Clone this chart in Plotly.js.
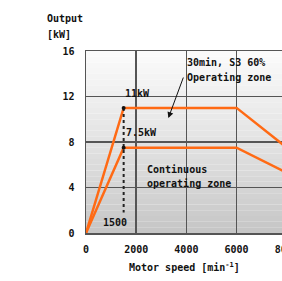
<!DOCTYPE html>
<html>
<head>
<meta charset="utf-8">
<script src="https://cdn.plot.ly/plotly-3.0.1.min.js"></script>
<style>
html,body{margin:0;padding:0;overflow:hidden;background:#fff;width:282px;height:281px;}
#chart{width:345px;height:281px;}
</style>
</head>
<body>
<div id="chart"></div>
<script>
// Data
const speedS3 = [0, 1500, 6000, 8000];
const powerS3 = [0, 11, 11, 7.5];
const speedCont = [0, 1500, 6000, 8000];
const powerCont = [0, 7.5, 7.5, 5.3];
const baseSpeed = [1500, 1500];
const baseLine = [11, 1.8];
const xTicks = [0, 2000, 4000, 6000, 8000];
const yTicks = [0, 4, 8, 12, 16];

const FONT = {family: 'DejaVu Sans Mono', size: 10, color: '#111', weight: 'bold'};
const ORANGE = '#ff6a14';

const traces = [
  {x: speedS3, y: powerS3, mode: 'lines', line: {color: ORANGE, width: 2.5}, hoverinfo: 'skip'},
  {x: speedCont, y: powerCont, mode: 'lines', line: {color: ORANGE, width: 2.5}, hoverinfo: 'skip'},
  {x: baseSpeed, y: baseLine, mode: 'lines', line: {color: '#222', width: 2, dash: 'dot'}, hoverinfo: 'skip'},
  {x: [speedS3[1], speedCont[1]], y: [powerS3[1], powerCont[1]], mode: 'markers', marker: {color: '#111', size: 4}, hoverinfo: 'skip'}
];

// background gradient (style only)
const shapes = [];
const N = 32;
for (let i = 0; i < N; i++) {
  const t = i / N; // 0 bottom -> 1 top
  const v = Math.round(198 + (252 - 198) * Math.pow(t, 0.9));
  shapes.push({type: 'rect', xref: 'paper', yref: 'y', x0: 0, x1: 1, y0: 16 * i / N, y1: 16 * (i + 1) / N,
    fillcolor: `rgb(${v},${v},${v})`, line: {width: 0}, layer: 'below'});
}

const annotations = [
  {x: 2050, y: 12.3, xref: 'x', yref: 'y', text: '11kW', showarrow: false, font: FONT},
  {x: 2200, y: 8.8, xref: 'x', yref: 'y', text: '7.5kW', showarrow: false, font: FONT},
  {x: 1150, y: 0.95, xref: 'x', yref: 'y', text: '1500', showarrow: false, font: FONT},
  {x: 3950, y: 15.0, xref: 'x', yref: 'y', xanchor: 'left', text: '30min, S3 60%', showarrow: false, font: FONT},
  {x: 3950, y: 13.65, xref: 'x', yref: 'y', xanchor: 'left', text: 'Operating zone', showarrow: false, font: FONT},
  {x: 2350, y: 5.6, xref: 'x', yref: 'y', xanchor: 'left', text: 'Continuous', showarrow: false, font: FONT},
  {x: 2350, y: 4.35, xref: 'x', yref: 'y', xanchor: 'left', text: 'operating zone', showarrow: false, font: FONT},
  {x: 3280, y: 10.1, xref: 'x', yref: 'y', ax: 3900, ay: 13.8, axref: 'x', ayref: 'y', text: '',
    showarrow: true, arrowhead: 2, arrowsize: 1.2, arrowwidth: 1, arrowcolor: '#111'},
  {x: -0.165, y: 1.18, xref: 'paper', yref: 'paper', xanchor: 'left', yanchor: 'middle', text: 'Output', showarrow: false, font: FONT},
  {x: -0.165, y: 1.09, xref: 'paper', yref: 'paper', xanchor: 'left', yanchor: 'middle', text: '[kW]', showarrow: false, font: FONT},
  {x: 0.394, y: -0.187, xref: 'paper', yref: 'paper', xanchor: 'center', yanchor: 'middle', text: 'Motor speed [min<sup>-1</sup>]', showarrow: false, font: FONT}
];

const layout = {
  width: 345, height: 281,
  margin: {l: 86, r: 7.5, t: 51, b: 48},
  paper_bgcolor: '#ffffff', plot_bgcolor: '#ffffff',
  showlegend: false,
  xaxis: {range: [0, 10000], tickvals: xTicks, ticktext: xTicks.map(String), showgrid: true, gridcolor: '#555', gridwidth: 1.5,
    zeroline: false, showline: true, linecolor: '#555', linewidth: 1.5, mirror: true, ticks: '', tickfont: FONT, ticklabelstandoff: 6},
  yaxis: {range: [0, 16], tickvals: yTicks, ticktext: yTicks.map(String), showgrid: true, gridcolor: '#555', gridwidth: 1.5,
    zeroline: false, showline: true, linecolor: '#555', linewidth: 1.5, mirror: true, ticks: '', tickfont: FONT, ticklabelstandoff: 8},
  shapes: shapes,
  annotations: annotations
};

Plotly.newPlot('chart', traces, layout, {staticPlot: true, displayModeBar: false});
</script>
</body>
</html>
